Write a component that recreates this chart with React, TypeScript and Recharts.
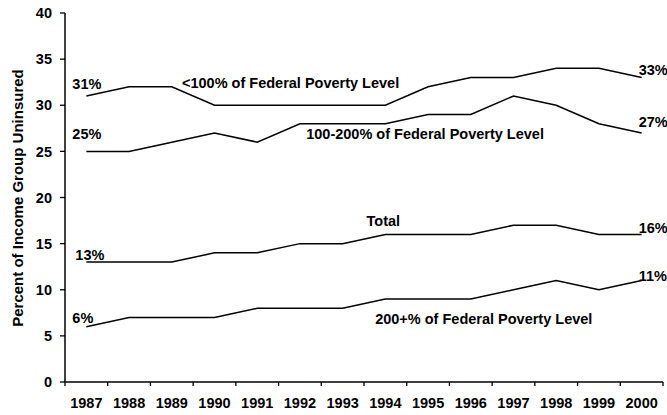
import React from 'react';
import { LineChart, Line, XAxis, YAxis, LabelList, Label } from 'recharts';

const years = [1987, 1988, 1989, 1990, 1991, 1992, 1993, 1994, 1995, 1996, 1997, 1998, 1999, 2000];
const below100 = [31, 32, 32, 30, 30, 30, 30, 30, 32, 33, 33, 34, 34, 33];
const fpl100to200 = [25, 25, 26, 27, 26, 28, 28, 28, 29, 29, 31, 30, 28, 27];
const total = [13, 13, 13, 14, 14, 15, 15, 16, 16, 16, 17, 17, 16, 16];
const above200 = [6, 7, 7, 7, 8, 8, 8, 9, 9, 9, 10, 11, 10, 11];
const yTicks = [0, 5, 10, 15, 20, 25, 30, 35, 40];
const yLabel = 'Percent of Income Group Uninsured';
const seriesNames = {
  below100: '<100% of Federal Poverty Level',
  fpl100to200: '100-200% of Federal Poverty Level',
  total: 'Total',
  above200: '200+% of Federal Poverty Level',
};

const data = years.map((year, i) => ({
  year,
  below100: below100[i],
  fpl100to200: fpl100to200[i],
  total: total[i],
  above200: above200[i],
}));

const xEdges = [...years.map((y) => y - 0.5), years[years.length - 1] + 0.5];
const xTicks = [...xEdges, ...years].sort((a, b) => a - b);

const FONT = '"Liberation Sans", Arial, Helvetica, sans-serif';
const FS = 14.5;
const last = years.length - 1;

type Note = { index: number; text: string; dx: number; dy: number; anchor: 'start' | 'middle' | 'end' };

const notes: Record<string, Note[]> = {
  below100: [
    { index: 0, text: `${below100[0]}%`, dx: -14, dy: -7, anchor: 'start' },
    { index: last, text: `${below100[last]}%`, dx: -3, dy: -3, anchor: 'start' },
    { index: 3, text: seriesNames.below100, dx: -32.5, dy: -17, anchor: 'start' },
  ],
  fpl100to200: [
    { index: 0, text: `${fpl100to200[0]}%`, dx: -14, dy: -12, anchor: 'start' },
    { index: last, text: `${fpl100to200[last]}%`, dx: -3, dy: -6, anchor: 'start' },
    { index: 8, text: seriesNames.fpl100to200, dx: -3, dy: 25, anchor: 'middle' },
  ],
  total: [
    { index: 0, text: `${total[0]}%`, dx: -11, dy: -2, anchor: 'start' },
    { index: last, text: `${total[last]}%`, dx: -3, dy: -1, anchor: 'start' },
    { index: 7, text: seriesNames.total, dx: -2, dy: -8.5, anchor: 'middle' },
  ],
  above200: [
    { index: 0, text: `${above200[0]}%`, dx: -14, dy: -4, anchor: 'start' },
    { index: last, text: `${above200[last]}%`, dx: -3, dy: 0, anchor: 'start' },
    { index: 9, text: seriesNames.above200, dx: 13, dy: 25, anchor: 'middle' },
  ],
};

const makeNotes = (list: Note[]) => (props: any) => {
  const { x, y, index } = props;
  const found = list.filter((n) => n.index === index);
  if (!found.length || x == null || y == null) return null;
  return (
    <g>
      {found.map((n, i) => (
        <text
          key={i}
          x={Number(x) + n.dx}
          y={Number(y) + n.dy}
          textAnchor={n.anchor}
          fontFamily={FONT}
          fontWeight="bold"
          fontSize={FS}
          fill="#000"
        >
          {n.text}
        </text>
      ))}
    </g>
  );
};

const XTick = (props: any) => {
  const { x, y, payload } = props;
  const v = payload.value;
  if (Number.isInteger(v)) {
    return (
      <text x={x} y={y + 26} textAnchor="middle" fontFamily={FONT} fontWeight="bold" fontSize={FS} fill="#000">
        {v}
      </text>
    );
  }
  return <line x1={x} x2={x} y1={y} y2={y + 4} stroke="#000" strokeWidth={1.3} />;
};

const YLabel = (props: any) => {
  const vb = props.viewBox || {};
  const cy = (vb.y ?? 0) + (vb.height ?? 0) / 2 + 0.5;
  const cx = 17;
  return (
    <text
      x={cx}
      y={cy}
      transform={`rotate(-90, ${cx}, ${cy})`}
      textAnchor="middle"
      dominantBaseline="central"
      fontFamily={FONT}
      fontWeight="bold"
      fontSize={15}
      fill="#000"
    >
      {yLabel}
    </text>
  );
};

const keys = ['below100', 'fpl100to200', 'total', 'above200'];

export default function App() {
  return (
    <div style={{ position: 'absolute', left: 0, top: 0, width: 667, height: 415, background: '#fff' }}>
      <LineChart width={667} height={415} data={data} margin={{ top: 13, right: 4, bottom: 0, left: 0 }}>
        <XAxis
          dataKey="year"
          type="number"
          domain={[xEdges[0], xEdges[xEdges.length - 1]]}
          ticks={xTicks}
          interval={0}
          tick={<XTick />}
          tickLine={false}
          tickSize={0}
          tickMargin={0}
          height={33}
          axisLine={{ stroke: '#000', strokeWidth: 1.3 }}
          allowDataOverflow
        />
        <YAxis
          type="number"
          domain={[0, 40]}
          ticks={yTicks}
          interval={0}
          width={65}
          tickSize={5}
          tickMargin={8}
          axisLine={{ stroke: '#000', strokeWidth: 1.5 }}
          tickLine={{ stroke: '#000', strokeWidth: 1.3 }}
          tick={{ fontFamily: FONT, fontWeight: 'bold', fontSize: FS, fill: '#000' }}
        >
          <Label content={<YLabel />} />
        </YAxis>
        {keys.map((k) => (
          <Line
            key={k}
            type="linear"
            dataKey={k}
            stroke="#000"
            strokeWidth={1.5}
            dot={false}
            activeDot={false}
            isAnimationActive={false}
          >
            <LabelList dataKey={k} content={makeNotes(notes[k])} />
          </Line>
        ))}
      </LineChart>
    </div>
  );
}
